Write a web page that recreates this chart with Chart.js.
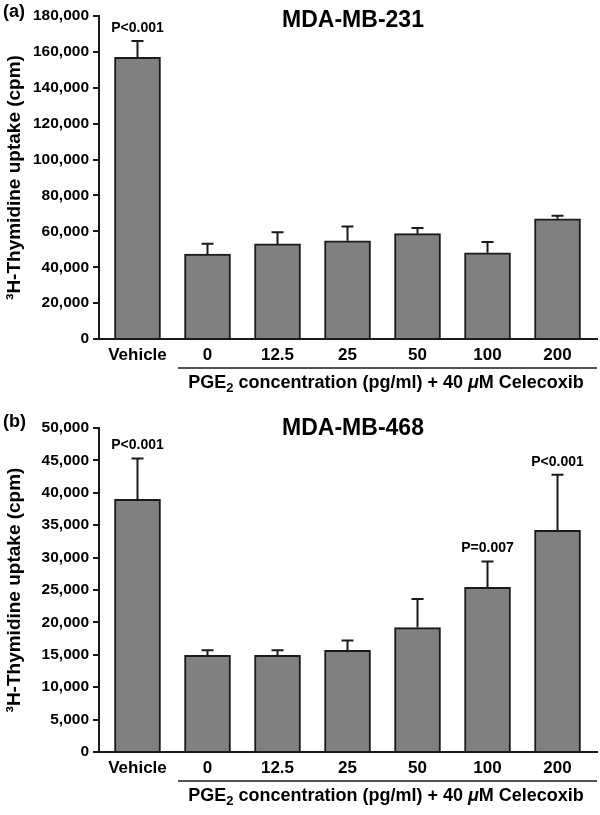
<!DOCTYPE html>
<html><head><meta charset="utf-8">
<script src="https://cdn.jsdelivr.net/npm/chart.js@4.4.1/dist/chart.umd.min.js"></script>
<style>
html,body{margin:0;padding:0;background:#fff;}
.box{position:relative;width:600px;}
</style></head><body>
<div class="box" style="height:400px"><canvas id="c1"></canvas></div>
<div class="box" style="height:415px"><canvas id="c2"></canvas></div>
<script>
// ---- data ----
const categories = ['Vehicle', '0', '12.5', '25', '50', '100', '200'];
const mb231Values = [157000, 47300, 53000, 54700, 58700, 48000, 67000];
const mb231Errors = [9000, 5800, 6500, 8000, 3100, 6000, 1700];
const mb231PLabels = ['P<0.001', '', '', '', '', '', ''];
const mb468Values = [39000, 14900, 14900, 15700, 19200, 25400, 34200];
const mb468Errors = [6300, 800, 800, 1500, 4400, 4000, 8600];
const mb468PLabels = ['P<0.001', '', '', '', '', 'P=0.007', 'P<0.001'];
const mb231YMax = 180000, mb231YStep = 20000;
const mb468YMax = 50000, mb468YStep = 5000;

const FAM = '"Liberation Sans", Arial, Helvetica, sans-serif';
const INK = '#1a1a1a';

function annotPlugin(cfg) {
  return {
    id: 'annot' + cfg.letter,
    afterDatasetsDraw(chart) {
      const ctx = chart.ctx, xs = chart.scales.x, ys = chart.scales.y;
      ctx.save();
      ctx.strokeStyle = INK; ctx.lineWidth = 2;
      cfg.values.forEach((v, i) => {
        const x = xs.getPixelForValue(i);
        const y0 = ys.getPixelForValue(v);
        const y1 = ys.getPixelForValue(v + cfg.errors[i]);
        ctx.beginPath();
        ctx.moveTo(x, y0); ctx.lineTo(x, y1);
        ctx.moveTo(x - 6, y1); ctx.lineTo(x + 6, y1);
        ctx.stroke();
        if (cfg.plabels[i]) {
          ctx.fillStyle = '#000';
          ctx.font = 'bold 14px ' + FAM;
          ctx.textAlign = 'center'; ctx.textBaseline = 'alphabetic';
          ctx.fillText(cfg.plabels[i], x, y1 - 9);
        }
      });
      ctx.restore();
    },
    afterDraw(chart) {
      const ctx = chart.ctx, ca = chart.chartArea;
      ctx.save();
      ctx.fillStyle = '#000';
      ctx.textBaseline = 'alphabetic';
      // panel letter
      ctx.font = 'bold 18px ' + FAM;
      ctx.textAlign = 'left';
      ctx.fillText('(' + cfg.letter + ')', 3, cfg.letterY);
      // title
      ctx.font = 'bold 23px ' + FAM;
      ctx.textAlign = 'center';
      ctx.fillText(cfg.title, 353, cfg.titleY);
      // bracket line
      const ly = ca.bottom + 29;
      ctx.strokeStyle = INK; ctx.lineWidth = 1.5;
      ctx.beginPath(); ctx.moveTo(178, ly); ctx.lineTo(ca.right, ly); ctx.stroke();
      // x caption with subscript and italic mu
      const ty = ca.bottom + 49;
      const segs = [
        {t: 'PGE', f: 'bold 18px ' + FAM, dy: 0},
        {t: '2', f: 'bold 13px ' + FAM, dy: 4},
        {t: ' concentration (pg/ml) + 40 ', f: 'bold 18px ' + FAM, dy: 0},
        {t: 'μ', f: 'italic bold 18px ' + FAM, dy: 0},
        {t: 'M Celecoxib', f: 'bold 18px ' + FAM, dy: 0}
      ];
      let tot = 0;
      segs.forEach(s => { ctx.font = s.f; s.w = ctx.measureText(s.t).width; tot += s.w; });
      let x = 386 - tot / 2;
      ctx.textAlign = 'left';
      segs.forEach(s => { ctx.font = s.f; ctx.fillText(s.t, x, ty + s.dy); x += s.w; });
      ctx.restore();
    }
  };
}

function makeChart(id, values, errors, plabels, ymax, ystep, letter, title, topPad, xHeight, letterY, titleY) {
  const cfg = {values, errors, plabels, letter, title, letterY, titleY};
  return new Chart(document.getElementById(id), {
    type: 'bar',
    data: {
      datasets: [{
        data: values.map((v, i) => ({x: i, y: v})),
        backgroundColor: '#808080',
        borderColor: INK,
        borderWidth: 2,
        barThickness: 46
      }]
    },
    options: {
      responsive: true,
      maintainAspectRatio: false,
      animation: false,
      devicePixelRatio: 1,
      layout: {padding: {left: 0, right: 3, top: topPad, bottom: 0}},
      plugins: {legend: {display: false}, tooltip: {enabled: false}},
      scales: {
        x: {
          type: 'linear', min: -0.55, max: 6.564, offset: false,
          afterBuildTicks: s => { s.ticks = categories.map((c, i) => ({value: i})); },
          afterFit: s => { s.height = xHeight; },
          grid: {display: false, offset: false},
          border: {display: true, color: INK, width: 2},
          ticks: {
            callback: v => categories[v],
            padding: -2, color: '#000', autoSkip: false, maxRotation: 0,
            font: {family: FAM, size: 17, weight: 'bold'}
          }
        },
        y: {
          min: 0, max: ymax,
          afterFit: s => { s.width = 99; },
          grid: {drawOnChartArea: false, drawTicks: true, tickLength: 6, color: INK, lineWidth: 2},
          border: {display: true, color: INK, width: 2},
          ticks: {
            stepSize: ystep, padding: 4, color: '#000',
            callback: v => v.toLocaleString('en-US'),
            font: {family: FAM, size: 15.5, weight: 'bold'}
          },
          title: {
            display: true, text: '³H-Thymidine uptake (cpm)', color: '#000',
            padding: {top: 3, bottom: 0},
            font: {family: FAM, size: 19, weight: 'bold'}
          }
        }
      }
    },
    plugins: [annotPlugin(cfg)]
  });
}

makeChart('c1', mb231Values, mb231Errors, mb231PLabels, mb231YMax, mb231YStep, 'a', 'MDA-MB-231', 16, 61, 17, 27);
makeChart('c2', mb468Values, mb468Errors, mb468PLabels, mb468YMax, mb468YStep, 'b', 'MDA-MB-468', 28, 63, 27, 35);
</script>
</body></html>
